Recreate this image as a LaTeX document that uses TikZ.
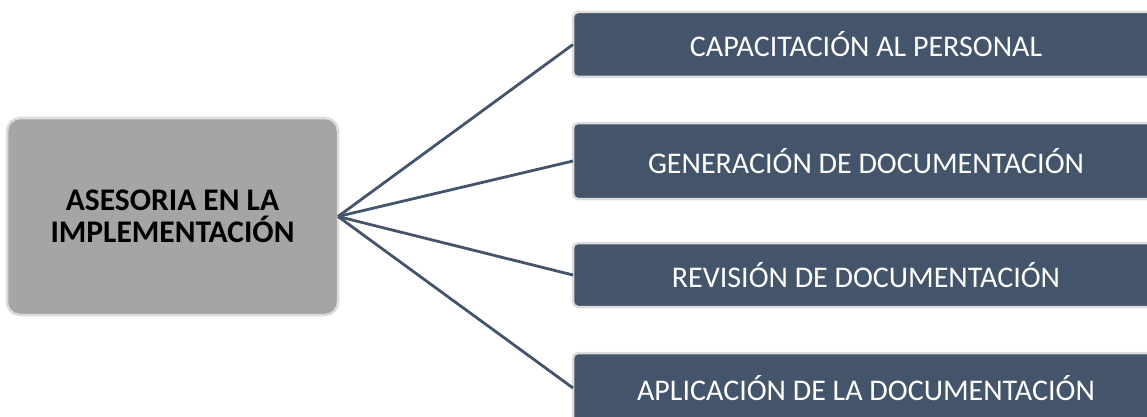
\documentclass[tikz,border=0pt]{standalone}
\usepackage{fontspec}
\setmainfont{Carlito}
\usetikzlibrary{positioning}
\definecolor{slate}{HTML}{44546A}
\definecolor{midgray}{HTML}{A5A5A5}
\definecolor{rimgray}{HTML}{DCDCDC}
\tikzstyle{base} = [rectangle, text centered, inner sep=0pt, outer sep=0pt, line width=2.5pt, draw=rimgray]
\tikzstyle{root} = [base, minimum width=331pt, minimum height=197pt, rounded corners=13pt, fill=midgray, font=\fontsize{31.5}{32}\selectfont\bfseries, align=center]
\tikzstyle{task} = [base, minimum width=586pt, rounded corners=5pt, fill=slate, text=white, font=\fontsize{30}{32}\selectfont, anchor=west]
\tikzstyle{link} = [draw=slate, line width=2.8pt]

\begin{document}
\begin{tikzpicture}[x=1pt, y=-1pt]
\useasboundingbox (0,0) rectangle (1147,417);

\node (ASESORIA) [root] at (172.5,216.5) {\raisebox{-3pt}{ASESORIA EN LA}\\\raisebox{-3pt}{IMPLEMENTACIÓN}};
\node (CAPACITACION) [task, minimum height=65pt] at (573,44.5) {CAPACITACIÓN AL PERSONAL};
\node (GENERACION) [task, minimum height=76pt, below=46pt of CAPACITACION] {GENERACIÓN DE DOCUMENTACIÓN};
\node (REVISION) [task, minimum height=64pt, below=44pt of GENERACION] {REVISIÓN DE DOCUMENTACIÓN};
\node (APLICACION) [task, minimum height=70pt, below=46pt of REVISION] {APLICACIÓN DE LA DOCUMENTACIÓN};

\draw [link] (ASESORIA.east) -- (CAPACITACION.west);
\draw [link] (ASESORIA.east) -- (GENERACION.west);
\draw [link] (ASESORIA.east) -- (REVISION.west);
\draw [link] (ASESORIA.east) -- (APLICACION.west);

\end{tikzpicture}
\end{document}
